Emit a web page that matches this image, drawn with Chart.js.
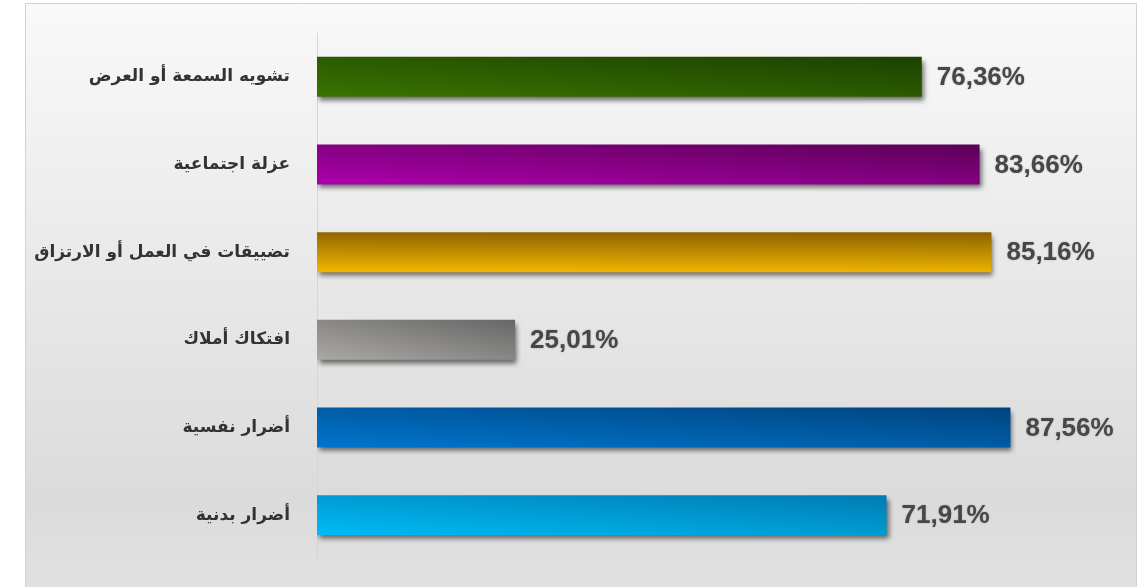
<!DOCTYPE html>
<html>
<head>
<meta charset="utf-8">
<script src="https://cdn.jsdelivr.net/npm/chart.js@4.4.1/dist/chart.umd.min.js"></script>
<style>
  html, body { margin: 0; padding: 0; background: #ffffff; }
  #wrap { position: relative; width: 1148px; height: 587px; }
</style>
</head>
<body>
<div id="wrap"><canvas id="harm-chart"></canvas></div>
<script>
// Categories (top to bottom) and their percentages
const categories = [
    'تشويه السمعة أو العرض',
    'عزلة اجتماعية',
    'تضييقات في العمل أو الارتزاق',
    'افتكاك أملاك',
    'أضرار نفسية',
    'أضرار بدنية'
];
const percentages = [76.36, 83.66, 85.16, 25.01, 87.56, 71.91];

// Gradient colours per bar: light end (bottom-left) and dark end (top-right)
const lightColors = ['#3b7300', '#ad00ad', '#f2b800', '#aba9a5', '#0075cd', '#00bbf6'];
const darkColors  = ['#1b4200', '#5c0057', '#8c6100', '#676767', '#00447f', '#007cb2'];
// How much of the gradient runs along the bar length (0 = purely vertical)
const gradTilt = [0.5, 0.5, 0.05, 0.5, 0.5, 0.5];

const BAR_H = 40;

function formatPct(v) {
    return v.toFixed(2).replace('.', ',') + '%';
}

function barGradient(context) {
    const chart = context.chart;
    const i = context.dataIndex;
    if (!chart.chartArea || !chart.scales.x || i === undefined) return lightColors[i || 0];
    const xs = chart.scales.x, ys = chart.scales.y;
    const x0 = xs.getPixelForValue(0);
    const x1 = xs.getPixelForValue(percentages[i]);
    const yc = ys.getPixelForValue(i);
    const yb = yc + BAR_H / 2;
    const w = Math.max(x1 - x0, 1);
    // colour parameter t = a*(x-x0)/w + b*(yb-y)/h
    const a = gradTilt[i], b = 1 - gradTilt[i];
    const gx = a / w, gy = -b / BAR_H;
    const n = gx * gx + gy * gy;
    const g = chart.ctx.createLinearGradient(x0, yb, x0 + gx / n, yb + gy / n);
    g.addColorStop(0, lightColors[i]);
    g.addColorStop(1, darkColors[i]);
    return g;
}

// grey panel behind the chart
const panelBackground = {
    id: 'panelBackground',
    beforeDraw(chart) {
        const ctx = chart.ctx;
        ctx.save();
        const g = ctx.createLinearGradient(0, 3, 0, 587);
        g.addColorStop(0, '#f9f9f9');
        g.addColorStop(0.45, '#e9e9e9');
        g.addColorStop(0.85, '#dbdbdb');
        g.addColorStop(1, '#e1e1e1');
        ctx.fillStyle = g;
        ctx.fillRect(25, 3, 1112, 584);
        ctx.strokeStyle = '#d2d2d2';
        ctx.lineWidth = 1;
        ctx.beginPath();
        ctx.moveTo(25.5, 587);
        ctx.lineTo(25.5, 3.5);
        ctx.lineTo(1136.5, 3.5);
        ctx.lineTo(1136.5, 587);
        ctx.stroke();
        ctx.restore();
    }
};

// drop shadow under the bars
const barShadow = {
    id: 'barShadow',
    beforeDatasetsDraw(chart) {
        const ctx = chart.ctx;
        ctx.save();
        ctx.shadowColor = 'rgba(0, 0, 0, 0.55)';
        ctx.shadowBlur = 5;
        ctx.shadowOffsetX = 2;
        ctx.shadowOffsetY = 4;
    },
    afterDatasetsDraw(chart) {
        chart.ctx.restore();
    }
};

// percentage text at the end of each bar
const valueLabels = {
    id: 'valueLabels',
    afterDatasetsDraw(chart) {
        const ctx = chart.ctx;
        const meta = chart.getDatasetMeta(0);
        ctx.save();
        ctx.font = 'bold 26px "Liberation Sans", Arial, sans-serif';
        ctx.fillStyle = '#474747';
        ctx.textAlign = 'left';
        ctx.textBaseline = 'middle';
        ctx.shadowColor = 'rgba(0, 0, 0, 0.25)';
        ctx.shadowBlur = 2;
        meta.data.forEach((bar, i) => {
            ctx.fillText(formatPct(percentages[i]), bar.x + 15, bar.y + 1);
        });
        ctx.restore();
    }
};

const canvas = document.getElementById('harm-chart');
const chart = new Chart(canvas.getContext('2d'), {
    type: 'bar',
    data: {
        labels: categories,
        datasets: [{
            data: percentages,
            backgroundColor: barGradient,
            borderWidth: 0,
            barPercentage: 0.456,
            categoryPercentage: 1
        }]
    },
    options: {
        indexAxis: 'y',
        responsive: true,
        maintainAspectRatio: false,
        animation: false,
        layout: { padding: { top: 33, bottom: 28, left: 0, right: 39 } },
        plugins: { legend: { display: false }, tooltip: { enabled: false } },
        scales: {
            x: {
                display: false,
                min: 0,
                max: 100
            },
            y: {
                afterFit(scale) {
                    scale.width = 317;
                    scale.paddingTop = 0;
                    scale.paddingBottom = 0;
                },
                grid: { color: 'rgba(0,0,0,0)', drawTicks: false },
                border: { display: true, color: '#d6d6d6', width: 1 },
                ticks: {
                    padding: 27,
                    color: '#333333',
                    font: { family: '"DejaVu Sans", sans-serif', size: 17, weight: 'bold' }
                }
            }
        }
    },
    plugins: [panelBackground, barShadow, valueLabels]
});
</script>
</body>
</html>
